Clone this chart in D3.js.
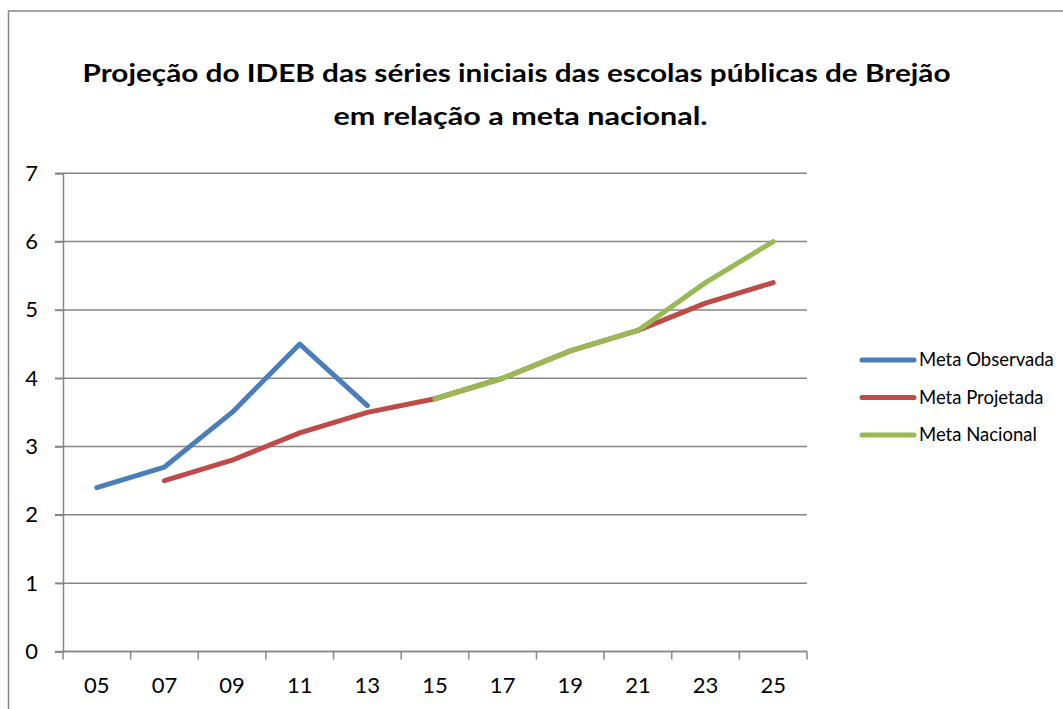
<!DOCTYPE html>
<html><head><meta charset="utf-8">
<script src="https://cdn.jsdelivr.net/npm/d3@7"></script>
<style>body{margin:0;background:#fff}svg{display:block}</style>
</head><body>
<svg id="c" width="1063" height="709"></svg>
<script>
const categories = ["05","07","09","11","13","15","17","19","21","23","25"];
const metaObservada = [2.4, 2.7, 3.5, 4.5, 3.6, null, null, null, null, null, null];
const metaProjetada = [null, 2.5, 2.8, 3.2, 3.5, 3.7, 4.0, 4.4, 4.7, 5.1, 5.4];
const metaNacional  = [null, null, null, null, null, 3.7, 4.0, 4.4, 4.7, 5.4, 6.0];
const yTicks = [0,1,2,3,4,5,6,7];
const seriesNames = ["Meta Observada","Meta Projetada","Meta Nacional"];
const seriesColors = ["#4A7EBB","#BE4B48","#98B954"];
const titleLines = ["Projeção do IDEB das séries iniciais das escolas públicas de Brejão","em relação a meta nacional."];

const svg = d3.select("#c");
const font = "Lato, 'Open Sans', sans-serif";
const grid = "#868686";

// outer border
svg.append("path").attr("d","M8.5,1000 V11 H1100").attr("fill","none").attr("stroke",grid).attr("stroke-width",1.5);

const x = d3.scaleBand().domain(categories).range([63,807]);
const y = d3.scaleLinear().domain([0,7]).range([651.5,173.3]);

// gridlines
svg.append("g").selectAll("line").data(yTicks).join("line")
  .attr("x1",55).attr("x2",807).attr("y1",d=>y(d)).attr("y2",d=>y(d))
  .attr("stroke",grid).attr("stroke-width",1.5);

// y axis
const ya = svg.append("g").attr("transform","translate(63,0)")
  .call(d3.axisLeft(y).tickValues(yTicks).tickSize(8).tickPadding(17).tickFormat(d3.format("d")));
ya.select(".domain").attr("stroke",grid).attr("stroke-width",1.5);
ya.selectAll(".tick line").attr("stroke",grid).attr("stroke-width",1.5);
ya.selectAll("text").attr("font-family",font).attr("font-size",22).attr("fill","#000");

// x axis
const xa = svg.append("g").attr("transform",`translate(0,${y(0)})`)
  .call(d3.axisBottom(x).tickSize(0).tickPadding(26));
xa.select(".domain").remove();
xa.selectAll("text").attr("font-family",font).attr("font-size",22).attr("fill","#000");
// tick marks at band boundaries
const bounds = categories.map(c=>x(c)).concat([x.range()[1]]);
svg.append("g").selectAll("line").data(bounds).join("line")
  .attr("x1",d=>d).attr("x2",d=>d).attr("y1",y(0)).attr("y2",y(0)+8)
  .attr("stroke",grid).attr("stroke-width",1.5);
svg.append("line").attr("x1",63).attr("x2",807).attr("y1",y(0)).attr("y2",y(0)).attr("stroke",grid).attr("stroke-width",1.5);

// lines
const data = [metaObservada, metaProjetada, metaNacional];
const line = d3.line().defined(d=>d.v!=null).x(d=>x(d.c)+x.bandwidth()/2).y(d=>y(d.v));
data.forEach((arr,i)=>{
  svg.append("path").datum(categories.map((c,j)=>({c, v:arr[j]})))
    .attr("d",line).attr("fill","none").attr("stroke",seriesColors[i])
    .attr("stroke-width",5).attr("stroke-linejoin","round").attr("stroke-linecap","round");
});

// legend
const lg = svg.append("g");
seriesNames.forEach((n,i)=>{
  const yy = 360 + i*37.5;
  lg.append("line").attr("x1",862).attr("x2",914).attr("y1",yy).attr("y2",yy)
    .attr("stroke",seriesColors[i]).attr("stroke-width",5).attr("stroke-linecap","round");
  lg.append("text").attr("x",919).attr("y",yy).attr("dy","0.35em")
    .attr("font-family",font).attr("font-size",18.5).attr("fill","#000").text(n);
});

// title
const tpos = [{x:516.5,y:82,w:868},{x:520.5,y:125,w:374}];
titleLines.forEach((t,i)=>{
  svg.append("text").attr("x",tpos[i].x).attr("y",tpos[i].y).attr("text-anchor","middle")
    .attr("font-family",font).attr("font-weight","bold").attr("font-size",25).attr("fill","#000")
    .attr("textLength",tpos[i].w).attr("lengthAdjust","spacingAndGlyphs").text(t);
});
</script>
</body></html>
